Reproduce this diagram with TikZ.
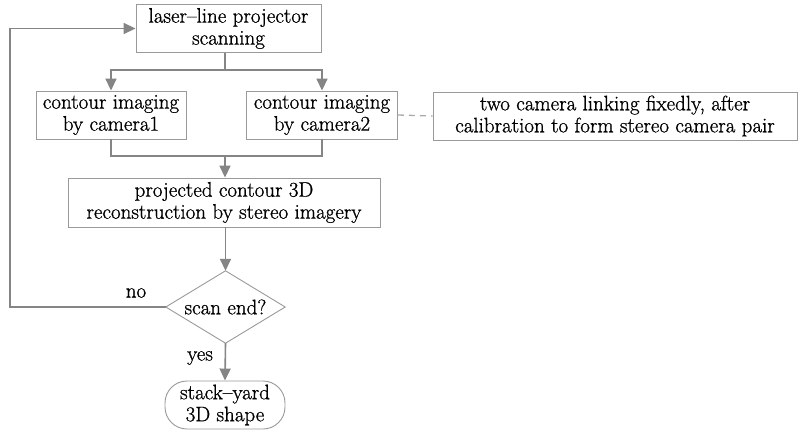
\documentclass[tikz,border=0pt]{standalone}
\usepackage{fontspec}
\setmainfont{Latin Modern Roman}[FakeBold=0.9]
\usetikzlibrary{arrows.meta}
\definecolor{linegray}{HTML}{858585}
\definecolor{boxgray}{HTML}{9A9A9A}
\definecolor{dashgray}{HTML}{ABABAB}
\tikzset{
  box/.style={draw=boxgray, line width=0.9pt, inner sep=0pt, align=center,
    minimum height=48pt},
  decisionarea/.style={inner sep=0pt, align=center,
    minimum width=119pt, minimum height=72pt},
  decisionline/.style={draw=boxgray, line width=0.9pt},
  terminal/.style={draw=boxgray, line width=0.9pt, inner sep=0pt, align=center,
    rounded corners=22pt, minimum width=120pt, minimum height=48pt},
  conn/.style={draw=linegray, line width=1.6pt},
  link/.style={conn, -{Triangle[length=12pt,width=11pt]}},
  tie/.style={draw=dashgray, line width=1.3pt, dash pattern=on 6pt off 5pt},
  lbl/.style={inner sep=0pt}
}
\begin{document}
\begin{tikzpicture}[x=1pt, y=-1pt, font=\fontsize{21}{22}\selectfont]
  \useasboundingbox (0,0) rectangle (798,434);
  \fill[white] (0,0) rectangle (798,434);

  % process boxes
  \node[box, minimum width=185pt] (scan) at (228.5,28.5)
    {laser–line projector\\scanning};
  \node[box, minimum width=150pt] (cam1) at (111,115)
    {contour imaging\\by camera1};
  \node[box, minimum width=151pt] (cam2) at (322,115)
    {contour imaging\\by camera2};
  \node[box, minimum width=364pt] (pair) at (615,116)
    {two camera linking fixedly, after\\calibration to form stereo camera pair};
  \node[box, minimum width=312pt, minimum height=49pt] (recon) at (224,202.5)
    {projected contour 3D\\reconstruction by stereo imagery};

  % decision: the diamond is drawn through the four side anchors
  \node[decisionarea] (done) at (225.5,307) {scan end?};
  \draw[decisionline] (done.north) -- (done.east) -- (done.south)
    -- (done.west) -- cycle;

  \node[terminal] (shape) at (225,405) {stack–yard\\3D shape};

  % branch points of the connectors
  \coordinate (split) at (225,70);
  \coordinate (merge) at (225,156);
  \coordinate (back) at (10,307);

  % scanning feeds both cameras
  \draw[conn] (scan.south -| split) -- (split);
  \draw[link] (split) -| (cam1.north);
  \draw[link] (split) -| (cam2.north);

  % camera pair relation
  \draw[tie] (cam2.east) -- (pair.west);

  % both images merge into the reconstruction
  \draw[conn] (cam1.south) |- (merge) -| (cam2.south);
  \draw[link] (merge) -- (recon.north -| merge);

  % reconstruction to decision
  \draw[link] (recon.south -| done) -- (done.north);

  % loop back when the scan is not finished
  \draw[link] (done.west) -- (back) |- (scan.west);
  \node[lbl] (nolbl) at (136,293) {no};

  % finished scan
  \draw[link] (done.south) -- (shape.north);
  \node[lbl] (yeslbl) at (200,358) {yes};
\end{tikzpicture}
\end{document}
